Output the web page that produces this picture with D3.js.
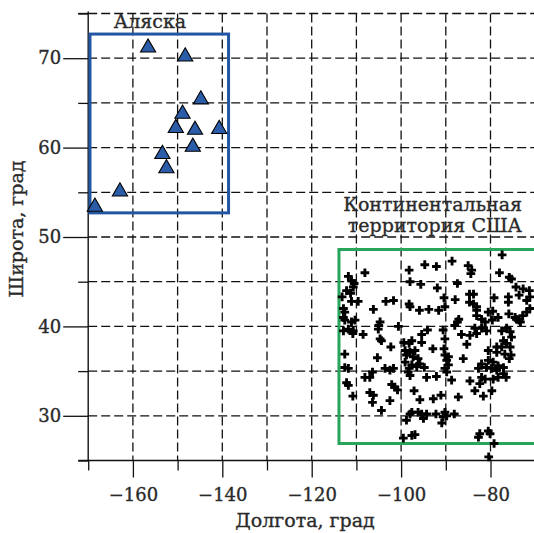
<!DOCTYPE html>
<html>
<head>
<meta charset="utf-8">
<title>Аляска и США</title>
<style>
  body { margin: 0; background: #fff; }
  svg text { font-family: "DejaVu Serif", "Liberation Serif", serif; fill: #2a2a2a; stroke: #2a2a2a; stroke-width: 0.35px; }
</style>
</head>
<body>
<script src="https://cdn.jsdelivr.net/npm/d3@7/dist/d3.min.js"></script>
<script>
// Alaska stations (triangles)
var akLon = [-156.6, -148.3, -144.8, -148.9, -150.4, -146.1, -140.7, -146.6, -153.4, -152.5, -162.9, -168.5];
var akLat = [71.4, 70.4, 65.6, 64.0, 62.4, 62.2, 62.3, 60.3, 59.5, 57.9, 55.3, 53.6];

// Continental US stations (crosses)
var usLon = [-77.4, -94.7, -92.1, -88.6, -98.2, -85.0, -84.2, -84.4, -108.1, -111.8,
  -78.0, -75.8, -75.3, -111.1, -110.5, -98.0, -95.6, -87.4, -91.9, -112.2,
  -110.7, -111.3, -74.3, -72.7, -71.3, -84.7, -83.8, -79.2, -76.0, -73.6,
  -113.2, -111.1, -109.6, -103.4, -101.7, -90.4, -87.9, -84.7, -83.8, -83.1,
  -76.0, -71.2, -71.9, -106.2, -98.2, -98.0, -95.9, -93.8, -91.6, -90.2,
  -83.1, -80.5, -79.5, -71.2, -71.9, -72.8, -112.9, -112.6, -112.9, -112.6,
  -111.1, -110.3, -104.7, -105.0, -87.1, -87.4, -83.1, -82.0, -81.2, -79.6,
  -78.3, -75.9, -73.6, -74.2, -73.3, -74.5, -112.9, -111.8, -110.7, -110.8,
  -105.1, -100.6, -95.4, -94.1, -90.6, -88.0, -86.5, -84.6, -83.5, -83.1,
  -82.0, -80.9, -77.5, -76.4, -75.6, -75.3, -108.5, -104.7, -104.4, -90.2,
  -97.6, -98.2, -99.4, -95.4, -92.9, -85.3, -77.1, -76.4, -75.6, -77.5,
  -78.6, -102.3, -112.6, -105.3, -99.1, -98.0, -96.9, -98.8, -97.3, -96.2,
  -90.4, -90.2, -89.4, -86.1, -80.5, -78.6, -76.8, -75.8, -75.4, -99.1,
  -97.6, -98.2, -96.5, -94.8, -95.8, -89.8, -89.4, -90.2, -89.8, -112.6,
  -111.8, -106.4, -103.6, -102.5, -101.7, -82.0, -80.5, -79.4, -78.3, -80.9,
  -79.7, -78.6, -77.1, -82.7, -77.1, -76.5, -98.4, -98.0, -108.1, -107.0,
  -94.3, -92.1, -88.7, -84.6, -82.0, -81.2, -79.4, -78.3, -112.2, -111.8,
  -102.1, -101.4, -100.8, -82.4, -83.5, -107.0, -106.2, -106.4, -110.8, -102.5,
  -97.1, -95.8, -92.8, -91.1, -87.2, -81.6, -79.7, -104.4, -97.6, -98.0,
  -96.2, -95.4, -94.3, -95.0, -92.2, -90.2, -89.8, -88.1, -90.6, -98.8,
  -90.9, -99.5, -97.6, -96.9, -82.7, -82.4, -80.5, -80.1, -79.2, -80.4];
var usLat = [48.0, 46.9, 46.7, 47.3, 46.3, 46.8, 46.3, 45.9, 46.0, 45.6,
  46.0, 45.5, 45.3, 45.1, 44.8, 45.0, 44.7, 44.8, 44.3, 44.0,
  44.4, 43.7, 44.4, 44.2, 44.0, 43.6, 43.6, 43.2, 43.3, 43.5,
  43.3, 42.8, 42.8, 42.8, 42.9, 43.2, 43.0, 42.7, 42.5, 42.2,
  42.7, 43.3, 42.9, 41.9, 42.5, 42.2, 41.8, 41.9, 41.8, 42.2,
  41.8, 41.6, 41.7, 42.0, 41.6, 41.2, 42.0, 41.6, 41.0, 40.7,
  40.5, 40.7, 40.5, 40.1, 40.8, 40.5, 41.2, 40.8, 40.5, 40.7,
  41.0, 41.4, 40.7, 40.8, 40.5, 41.0, 39.5, 39.7, 39.5, 39.2,
  39.7, 40.0, 39.1, 39.6, 39.6, 40.1, 39.1, 39.0, 39.8, 39.2,
  39.8, 39.5, 39.5, 39.8, 39.4, 38.8, 39.1, 38.6, 38.4, 38.6,
  38.4, 38.1, 38.2, 38.2, 37.5, 38.0, 38.4, 38.1, 37.7, 37.7,
  37.7, 37.7, 36.9, 36.5, 37.3, 37.1, 37.3, 36.8, 36.6, 36.4,
  37.5, 36.8, 36.6, 36.4, 37.3, 37.1, 36.9, 36.4, 36.8, 36.0,
  35.7, 35.3, 35.5, 35.4, 35.8, 36.2, 35.7, 35.3, 34.9, 35.4,
  35.3, 34.9, 35.3, 35.1, 35.3, 35.8, 36.2, 36.0, 35.6, 35.4,
  35.3, 35.1, 35.4, 35.3, 34.7, 34.3, 34.9, 34.5, 34.3, 34.3,
  34.3, 34.4, 34.0, 33.9, 34.3, 34.1, 34.1, 34.3, 33.7, 33.4,
  33.5, 33.2, 32.9, 33.6, 32.8, 32.6, 32.3, 31.5, 32.2, 31.7,
  32.8, 31.8, 31.9, 32.3, 32.1, 32.2, 32.8, 30.6, 30.4, 30.2,
  30.4, 30.2, 30.2, 29.7, 30.2, 30.4, 30.0, 30.2, 29.9, 29.5,
  29.2, 27.5, 27.8, 27.9, 27.6, 28.0, 28.3, 28.0, 26.9, 25.4];

// Region frames: [lonMin, lonMax, latMin, latMax]
var alaskaBox = [-169.6, -138.6, 52.7, 72.7];
var usBox = [-113.9, -60, 26.9, 48.6];

var xMajor = [-160, -140, -120, -100, -80];
var xMinor = [-170, -150, -130, -110, -90, -70];
var yMajor = [30, 40, 50, 60, 70];
var yMinor = [25, 35, 45, 55, 65, 75];

var W = 534, H = 533;

var x = d3.scaleLinear().domain([-170, -70]).range([88.2, 535.2]);
var y = d3.scaleLinear().domain([25, 75]).range([460.5, 13.5]);

var svg = d3.select("body").append("svg")
    .attr("width", W)
    .attr("height", H);

var x0 = x(-170), y0 = y(25);

// dashed grid
var grid = svg.append("g")
    .attr("stroke", "#111")
    .attr("stroke-width", 1.3)
    .attr("stroke-dasharray", "9,4");

grid.selectAll(".vg")
    .data(xMajor.concat(xMinor).filter(function(d) { return d > -170; }))
    .enter().append("line")
    .attr("x1", function(d) { return x(d); })
    .attr("x2", function(d) { return x(d); })
    .attr("y1", y(75))
    .attr("y2", y0);

grid.selectAll(".hg")
    .data(yMajor.concat(yMinor).filter(function(d) { return d > 25; }))
    .enter().append("line")
    .attr("x1", x0)
    .attr("x2", W)
    .attr("y1", function(d) { return y(d); })
    .attr("y2", function(d) { return y(d); });

// axes
svg.append("g")
    .attr("transform", "translate(0," + y0 + ")")
    .call(d3.axisBottom(x).tickValues(xMajor).tickSize(17).tickPadding(11));
svg.append("g")
    .attr("transform", "translate(0," + y0 + ")")
    .call(d3.axisBottom(x).tickValues(xMinor).tickSize(10).tickFormat(""));
svg.append("g")
    .attr("transform", "translate(" + x0 + ",0)")
    .call(d3.axisLeft(y).tickValues(yMajor).tickSize(25).tickPadding(2));
svg.append("g")
    .attr("transform", "translate(" + x0 + ",0)")
    .call(d3.axisLeft(y).tickValues(yMinor).tickSize(10).tickFormat(""));

svg.selectAll(".domain").remove();
svg.selectAll(".tick line").attr("stroke", "#111").attr("stroke-width", 1.3);
svg.selectAll(".tick text")
    .style("font-family", "'DejaVu Serif', serif")
    .style("font-size", "18px");

// axis lines
svg.append("line")
    .attr("x1", x0 - 10).attr("x2", W)
    .attr("y1", y0).attr("y2", y0)
    .attr("stroke", "#111").attr("stroke-width", 1.4);
svg.append("line")
    .attr("x1", x0).attr("x2", x0)
    .attr("y1", y(75) - 2).attr("y2", y0)
    .attr("stroke", "#111").attr("stroke-width", 1.4);
svg.append("line")
    .attr("x1", x0 - 10).attr("x2", x0)
    .attr("y1", y(75)).attr("y2", y(75))
    .attr("stroke", "#111").attr("stroke-width", 1.3);

// region boxes
function box(b, color) {
  svg.append("rect")
      .attr("x", x(b[0]))
      .attr("y", y(b[3]))
      .attr("width", x(b[1]) - x(b[0]))
      .attr("height", y(b[2]) - y(b[3]))
      .attr("fill", "none")
      .attr("stroke", color)
      .attr("stroke-width", 3);
}
box(alaskaBox, "#2356a2");
box(usBox, "#27a55b");

// continental points
var cross = d3.symbol().type(d3.symbolCross).size(42);
svg.append("g").selectAll("path")
    .data(d3.range(usLon.length))
    .enter().append("path")
    .attr("d", cross)
    .attr("transform", function(i) { return "translate(" + x(usLon[i]) + "," + y(usLat[i]) + ")"; })
    .attr("fill", "#000");

// alaska points
var tri = d3.symbol().type(d3.symbolTriangle).size(100);
svg.append("g").selectAll("path")
    .data(d3.range(akLon.length))
    .enter().append("path")
    .attr("d", tri)
    .attr("transform", function(i) { return "translate(" + x(akLon[i]) + "," + (y(akLat[i]) + 2) + ")"; })
    .attr("fill", "#2a5ca8")
    .attr("stroke", "#000")
    .attr("stroke-width", 1.1);

// labels
svg.append("text")
    .attr("x", 150).attr("y", 28)
    .attr("text-anchor", "middle")
    .style("font-size", "19px")
    .text("Аляска");
svg.append("text")
    .attr("x", 522).attr("y", 211)
    .attr("text-anchor", "end")
    .style("font-size", "19px")
    .text("Континентальная");
svg.append("text")
    .attr("x", 522).attr("y", 232)
    .attr("text-anchor", "end")
    .style("font-size", "19px")
    .text("территория США");

svg.append("text")
    .attr("x", 305).attr("y", 527)
    .attr("text-anchor", "middle")
    .style("font-size", "19px")
    .text("Долгота, град");
svg.append("text")
    .attr("transform", "translate(23,229) rotate(-90)")
    .attr("text-anchor", "middle")
    .style("font-size", "19px")
    .text("Широта, град");
</script>
</body>
</html>
